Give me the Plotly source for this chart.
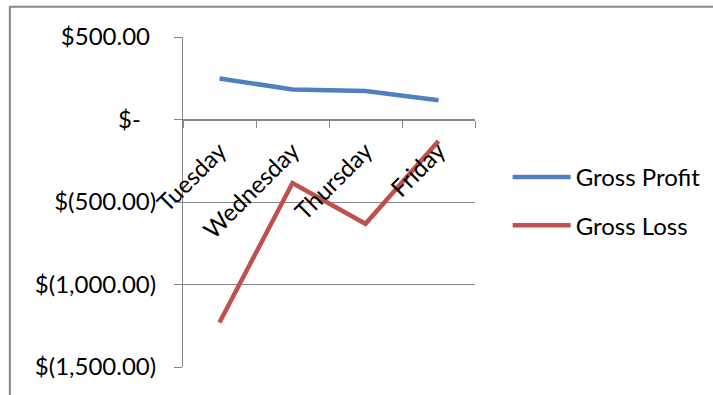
import plotly.graph_objects as go

# Daily figures (USD)
days = ["Tuesday", "Wednesday", "Thursday", "Friday"]
gross_profit = [249, 182, 172, 117]
gross_loss = [-1230, -385, -632, -130]

# Value-axis ticks in accounting format
y_ticks = [-1500, -1000, -500, 0, 500]
y_tick_labels = ["$(1,500.00)", "$(1,000.00)", "$(500.00)",
                 "$-\u00a0\u00a0\u2009", "$500.00\u00a0"]

FONT = "Lato"
SIZE = 24
GRID = "#868686"

fig = go.Figure()
fig.add_trace(go.Scatter(x=days, y=gross_profit, name="Gross Profit",
                         mode="lines", line=dict(color="#4F81BD", width=4.5),
                         legendgroup="p"))
fig.add_trace(go.Scatter(x=days, y=gross_loss, name="Gross Loss",
                         mode="lines", line=dict(color="#C0504D", width=4.5),
                         legendgroup="l"))

fig.update_layout(
    width=713, height=395,
    margin=dict(l=183, r=238, t=37, b=28),
    paper_bgcolor="white", plot_bgcolor="white",
    font=dict(family=FONT, size=SIZE, color="black"),
    showlegend=True,
    legend=dict(xref="container", yref="container",
                x=0.712, y=0.49, xanchor="left", yanchor="middle",
                tracegroupgap=14, itemwidth=58,
                font=dict(family=FONT, size=SIZE, color="black"),
                bgcolor="rgba(0,0,0,0)"),
    xaxis=dict(
        type="category", range=[-0.5, 3.5],
        anchor="free", position=0.75,
        showline=True, linecolor=GRID, linewidth=1,
        ticks="outside", tickson="boundaries", ticklen=7, tickcolor=GRID,
        showgrid=False, tickangle=-45, automargin=False,
        ticklabelstandoff=7,
        tickfont=dict(family=FONT, size=SIZE, color="black"),
    ),
    yaxis=dict(
        range=[-1500, 500], tickvals=y_ticks, ticktext=y_tick_labels,
        showgrid=True, gridcolor=GRID, gridwidth=1, zeroline=False,
        showline=True, linecolor=GRID, linewidth=1,
        ticks="outside", ticklen=8, tickcolor=GRID,
        ticklabelstandoff=13, automargin=False,
        tickfont=dict(family=FONT, size=SIZE, color="black"),
    ),
)

# Chart-area border
fig.add_shape(type="rect", xref="paper", yref="paper",
              x0=-0.593, x1=1.9, y0=-0.2, y1=1.092,
              line=dict(color=GRID, width=2), fillcolor="rgba(0,0,0,0)",
              layer="below")

fig.write_html("out.html")
